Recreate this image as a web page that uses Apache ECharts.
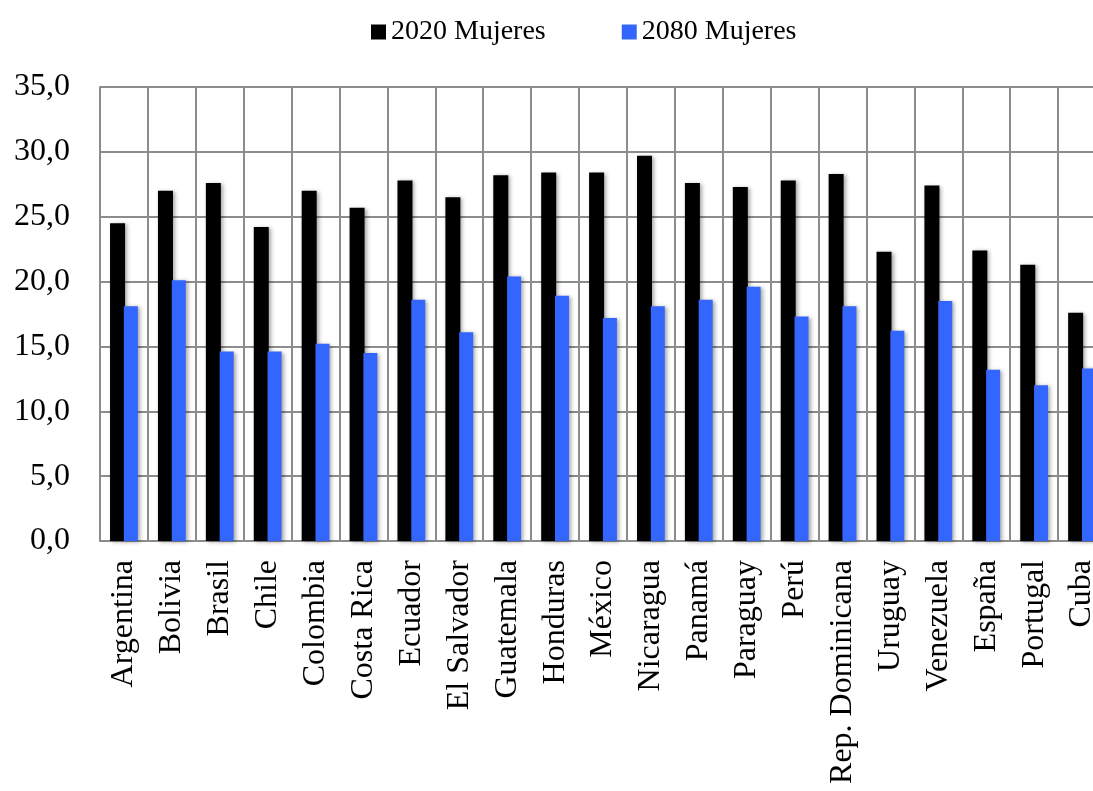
<!DOCTYPE html>
<html>
<head>
<meta charset="utf-8">
<script src="https://cdn.jsdelivr.net/npm/echarts@6/dist/echarts.min.js"></script>
<style>
  html, body { margin: 0; padding: 0; background: #ffffff; }
  #chart { width: 1093px; height: 791px; }
</style>
</head>
<body>
<div id="chart"></div>
<script>
// Countries on the category axis
const countries = [
  'Argentina', 'Bolivia', 'Brasil', 'Chile', 'Colombia', 'Costa Rica',
  'Ecuador', 'El Salvador', 'Guatemala', 'Honduras', 'México', 'Nicaragua',
  'Panamá', 'Paraguay', 'Perú', 'Rep. Dominicana', 'Uruguay', 'Venezuela',
  'España', 'Portugal', 'Cuba'
];

// Women, 2020
const mujeres2020 = [
  24.5, 27.0, 27.6, 24.2, 27.0, 25.7,
  27.8, 26.5, 28.2, 28.4, 28.4, 29.7,
  27.6, 27.3, 27.8, 28.3, 22.3, 27.4,
  22.4, 21.3, 17.6
];

// Women, 2080
const mujeres2080 = [
  18.1, 20.1, 14.6, 14.6, 15.2, 14.5,
  18.6, 16.1, 20.4, 18.9, 17.2, 18.1,
  18.6, 19.6, 17.3, 18.1, 16.2, 18.5,
  13.2, 12.0, 13.3
];

const seriesNames = ['2020 Mujeres', '2080 Mujeres'];
const yTicks = { min: 0, max: 35, interval: 5 };

const FONT = '"Liberation Serif", "DejaVu Serif", serif';
const GRID_COLOR = '#8c8c8c';

const barShadow = {
  shadowColor: 'rgba(0,0,0,0.35)',
  shadowBlur: 4,
  shadowOffsetX: 2,
  shadowOffsetY: 1
};

const chart = echarts.init(document.getElementById('chart'), null, { renderer: 'canvas' });

chart.setOption({
  animation: false,
  backgroundColor: '#ffffff',
  textStyle: { fontFamily: FONT },
  legend: {
    top: 13,
    left: 366,
    itemWidth: 15,
    itemHeight: 15,
    itemGap: 76,
    icon: 'rect',
    textStyle: { fontFamily: FONT, fontSize: 28, color: '#000' },
    data: seriesNames
  },
  // the plot runs past the right edge of the canvas, so the last column is cut
  grid: {
    left: 100,
    top: 87,
    width: 1006,
    height: 454,
    containLabel: false,
    outerBoundsMode: 'none'
  },
  xAxis: {
    type: 'category',
    data: countries,
    boundaryGap: true,
    axisLine: { show: true, lineStyle: { color: GRID_COLOR, width: 2 } },
    axisTick: { show: false },
    splitLine: { show: true, lineStyle: { color: GRID_COLOR, width: 2 } },
    axisLabel: {
      rotate: 90,
      interval: 0,
      margin: 19,
      fontFamily: FONT,
      fontSize: 32,
      color: '#000'
    }
  },
  yAxis: {
    type: 'value',
    min: yTicks.min,
    max: yTicks.max,
    interval: yTicks.interval,
    axisLine: { show: true, lineStyle: { color: GRID_COLOR, width: 2 } },
    axisTick: { show: false },
    splitLine: { show: true, lineStyle: { color: GRID_COLOR, width: 2 } },
    axisLabel: {
      margin: 30,
      fontFamily: FONT,
      fontSize: 32,
      color: '#000',
      formatter: v => v.toFixed(1).replace('.', ',')
    }
  },
  series: [
    {
      name: seriesNames[0],
      type: 'bar',
      data: mujeres2020,
      barWidth: 15,
      barGap: '-8%',
      itemStyle: Object.assign({ color: '#000000' }, barShadow)
    },
    {
      name: seriesNames[1],
      type: 'bar',
      data: mujeres2080,
      barWidth: 14,
      itemStyle: Object.assign({ color: '#3366ff' }, barShadow)
    }
  ]
});
</script>
</body>
</html>
